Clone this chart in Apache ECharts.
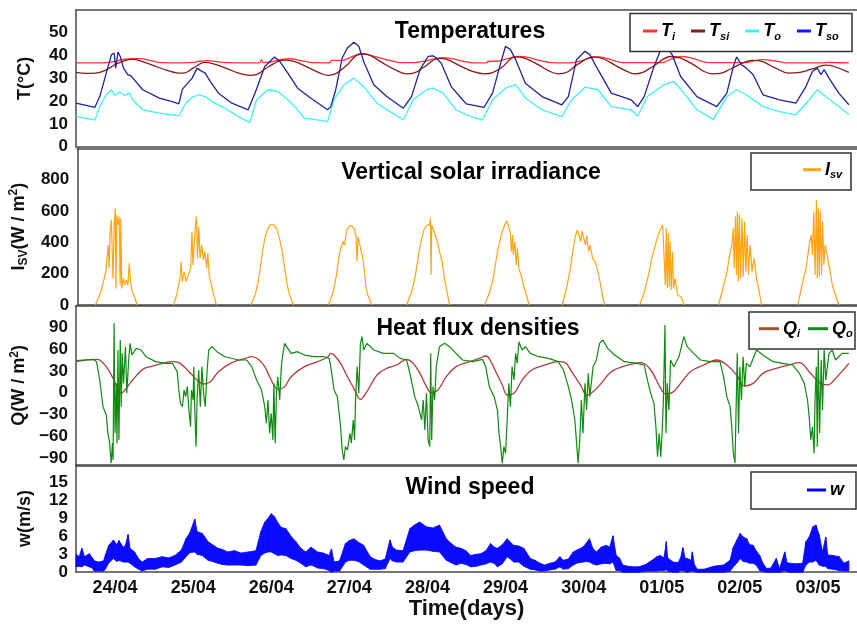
<!DOCTYPE html>
<html><head><meta charset="utf-8">
<script src="https://cdn.jsdelivr.net/npm/echarts/dist/echarts.min.js"></script>
<style>html,body{margin:0;padding:0;background:#fff}#c{width:857px;height:624px}</style>
</head><body><div id="c"></div>
<script>
// ---------------- data (time in hours from 24/04 00:00) ----------------
const days = ['24/04','25/04','26/04','27/04','28/04','29/04','30/04','01/05','02/05','03/05'];

const tiData = [[0,36.8],[8,36.8],[11,37.2],[14,38.2],[17,38.6],[20,38.7],[23,37.8],[26,36.9],[33,36.8],[36,37.0],[38,37.5],[40.5,37.8],[43,37.4],[46,36.9],[56.5,36.8],[57,38.2],[57.5,36.9],[60,37.2],[63,38.3],[66,38.6],[69,37.8],[72,37.0],[78,36.8],[78.4,37.9],[81.3,37.9],[83,38.3],[86,40.2],[89,40.6],[92,39.5],[96,38.0],[100,36.9],[104,36.9],[107,37.5],[110,38.5],[113,39.1],[116,38.5],[119,37.5],[122,36.8],[126.3,36.8],[126.5,37.4],[130,37.6],[133,38.8],[136,39.6],[139,39.2],[142,38.0],[146,36.9],[152,36.8],[155,37.6],[158,39.0],[160.5,39.4],[163,38.8],[166,37.5],[168,36.9],[180,36.9],[183,38.5],[186,39.6],[189,39.0],[192,37.6],[195,36.9],[206,36.9],[208,37.6],[211,38.2],[214,37.8],[217,37.1],[219,36.8],[229,36.8],[231.4,37.0],[233,36.9],[237.5,36.8]];

const tsiData = [[0,32.6],[3,32.2],[6,32.3],[9,33.5],[12,36.0],[15,37.8],[17.4,38.3],[20,37.6],[24,35.5],[28,33.5],[31,32.4],[33,32.3],[36,34.5],[39.5,37.0],[42,36.5],[46,34.5],[50,32.3],[53.5,31.3],[56,32.0],[59,35.0],[64,38.0],[67,37.4],[71,35.0],[75,32.3],[77.5,31.3],[80,32.2],[83,35.5],[87.5,40.8],[90,40.3],[94,37.0],[98,33.8],[101.5,32.0],[104,32.4],[107,35.0],[111.5,38.8],[114,38.3],[118,35.5],[122,33.0],[125.5,32.0],[128,32.5],[131,35.0],[135,39.4],[138,38.8],[142,36.0],[145,33.5],[148.2,32.0],[151,32.8],[154,36.0],[159,39.4],[162,38.6],[166,35.5],[169,33.3],[171.6,32.0],[174,32.5],[177,35.0],[183,39.6],[186,38.8],[190,35.8],[193,33.0],[195.5,32.0],[198,32.2],[201,34.0],[208,37.9],[211,37.3],[215,34.5],[219,32.3],[222,32.5],[226,34.0],[230.4,35.8],[233,35.2],[237.5,32.6]];

const toData = [[0,13.2],[3,12.5],[5.8,11.7],[7.3,17.6],[9.3,22.8],[10.9,25.0],[11.9,22.5],[13.4,24.0],[14.9,22.5],[16.4,23.5],[17.4,20.6],[20.5,16.2],[25.6,14.7],[29.6,14.0],[31.6,13.5],[33.7,19.1],[35.5,21.5],[37.7,22.8],[39.7,22.0],[41.8,19.8],[45.8,16.9],[49.9,13.2],[53.4,10.6],[55.5,20.6],[59.0,25.0],[62.1,24.2],[65.1,20.6],[68.1,16.2],[70.2,12.5],[73.2,12.0],[77.3,11.0],[79.3,20.6],[82.3,27.2],[85.4,30.1],[88.4,26.4],[92.5,19.1],[96.5,15.4],[100.6,11.7],[103.6,20.6],[107.7,25.0],[109.7,25.7],[112.8,23.5],[116.8,16.2],[119.9,14.0],[124.9,11.7],[128.0,20.6],[132.0,25.7],[135.1,27.2],[138.1,21.3],[143.2,16.2],[149.3,13.2],[152.3,20.6],[156.4,26.1],[160.4,25.0],[164.5,17.6],[170.6,16.2],[172.6,13.5],[175.6,22.0],[180.7,27.2],[183.7,28.6],[186.8,23.5],[190.8,16.2],[195.9,12.0],[200.0,22.0],[203.0,25.0],[206.0,22.8],[211.1,17.6],[216.2,15.4],[221.2,14.0],[225.3,20.6],[227.8,25.0],[230.4,22.0],[234.4,17.6],[237.5,14.0]];

const tsoData = [[0,19.1],[5.8,17.3],[7.3,22.0],[9.3,32.3],[10.9,40.4],[11.7,41.1],[12.2,34.5],[12.9,41.6],[13.6,39.6],[14.6,34.5],[15.9,31.6],[16.9,31.1],[20.5,25.0],[25.6,21.3],[29.6,19.8],[31.6,18.8],[32.7,25.3],[35.7,30.1],[37.2,34.5],[38.2,33.5],[39.7,32.3],[41.3,28.6],[43.8,23.5],[47.9,19.1],[52.9,16.2],[55.0,23.5],[58.0,35.2],[61.0,39.4],[62.6,37.4],[65.1,32.3],[68.1,25.7],[72.2,21.3],[77.3,16.2],[78.3,17.6],[79.8,24.9],[81.8,38.9],[83.4,43.3],[85.4,45.8],[86.9,44.1],[88.4,37.4],[91.5,27.2],[95.5,22.0],[100.6,16.9],[103.1,22.0],[105.7,33.8],[108.2,39.6],[109.7,39.9],[110.7,38.9],[112.2,36.7],[115.3,26.4],[118.8,20.6],[119.9,18.8],[125.4,17.3],[128.0,23.5],[130.5,36.7],[132.0,44.1],[133.5,42.6],[135.1,38.2],[138.1,27.9],[143.2,22.0],[149.3,18.4],[151.3,22.0],[153.8,38.2],[156.4,41.9],[157.9,40.4],[160.4,33.8],[164.5,23.5],[170.6,20.6],[172.6,17.6],[174.6,22.0],[177.6,35.2],[179.7,42.6],[181.2,44.1],[183.2,40.4],[185.8,30.8],[190.8,22.0],[196.9,17.6],[200.0,23.5],[202.0,35.2],[203.0,39.4],[204.5,36.0],[206.0,34.5],[208.1,31.6],[211.1,22.8],[216.2,20.6],[221.2,19.1],[224.3,26.4],[226.3,33.0],[227.8,34.5],[228.9,31.6],[229.9,33.8],[231.4,30.1],[234.4,23.5],[237.5,18.4]];

const isvData = [[0,0],[5.6,0],[7.3,85],[8.8,213],[9.5,383],[9.8,234],[10.1,469],[10.5,543],[11.0,170],[11.4,522],[11.7,618],[11.9,106],[12.2,575],[12.6,511],[12.9,564],[13.2,128],[13.4,554],[13.7,106],[14.2,170],[14.6,128],[15.1,160],[15.6,128],[16.0,266],[16.4,149],[16.9,85],[17.4,64],[18.5,0],
[29.6,0],[30.6,64],[31.6,170],[32.0,277],[32.3,149],[32.9,213],[33.5,149],[34.2,192],[34.9,234],[35.3,469],[35.6,256],[36.0,383],[36.4,511],[36.7,564],[37.0,298],[37.4,500],[37.8,298],[38.3,383],[38.8,288],[39.3,341],[39.8,234],[40.2,330],[40.6,192],[41.3,128],[42.0,64],[42.8,0],
[53.4,0],[54.3,40],[55.0,85],[55.6,140],[56.0,190],[56.5,260],[57.0,341],[57.7,420],[58.5,479],[59.2,508],[60.0,515],[60.8,505],[61.5,479],[62.3,420],[63.1,341],[63.6,270],[64.1,200],[64.6,130],[65.1,85],[65.6,50],[66.0,40],[66.6,0],
[77.3,0],[78.8,85],[79.8,192],[80.8,341],[81.8,405],[82.3,383],[82.8,469],[83.6,500],[84.4,507],[85.2,490],[85.8,437],[86.1,277],[86.4,437],[87.2,362],[87.9,298],[88.4,213],[88.9,106],[89.4,64],[89.9,43],[90.6,0],
[101.4,0],[103.1,96],[104.1,192],[105.2,341],[105.9,415],[106.7,479],[107.7,511],[108.5,511],[108.7,554],[108.9,192],[109.1,511],[109.7,479],[110.7,415],[111.5,341],[112.3,277],[113.0,170],[113.8,85],[114.6,0],
[125.4,0],[127.0,85],[128.0,170],[129.0,298],[130.0,405],[131.0,479],[131.8,522],[132.2,537],[132.8,500],[133.3,458],[133.6,341],[134.0,447],[134.2,320],[134.7,405],[135.1,256],[135.5,362],[135.9,234],[136.6,192],[137.3,128],[138.1,75],[139.1,0],
[149.3,0],[150.8,128],[151.8,234],[152.5,341],[153.3,437],[153.9,479],[154.5,490],[155.0,405],[155.3,473],[155.9,426],[156.4,383],[156.8,443],[157.4,341],[157.9,383],[158.6,298],[159.4,277],[160.1,224],[160.9,149],[161.6,64],[162.4,0],
[173.1,0],[174.6,85],[175.8,192],[177.1,320],[178.2,405],[179.2,469],[180.2,511],[180.7,515],[181.0,128],[181.3,490],[181.6,106],[181.9,458],[182.2,117],[182.5,405],[182.8,96],[183.2,341],[183.5,106],[184.0,170],[184.8,64],[185.8,53],[186.8,0],
[197.4,0],[199.0,128],[200.0,213],[200.8,320],[201.5,383],[201.9,490],[202.2,234],[202.6,564],[202.9,192],[203.2,596],[203.5,149],[203.8,575],[204.2,170],[204.6,554],[205.0,181],[205.4,533],[205.8,213],[206.2,447],[206.6,192],[207.1,383],[207.7,213],[208.3,298],[209.1,170],[209.9,85],[210.6,0],
[221.8,0],[223.1,128],[224.3,234],[225.3,383],[225.9,447],[226.3,320],[226.7,596],[227.1,192],[227.5,671],[227.8,170],[228.1,618],[228.4,181],[228.7,596],[229.1,192],[229.4,533],[229.8,256],[230.2,383],[230.8,320],[231.6,234],[232.4,128],[233.4,64],[234.4,0],[240,0]];

const qiData = [[0,42.7],[6.3,45.9],[7.3,45.0],[9.3,35.8],[11.4,19.7],[12.9,4.6],[13.9,-0.9],[15.4,6.0],[17.4,17.4],[20.5,32.1],[23.5,36.7],[26.6,40.4],[29.6,42.7],[31.6,41.3],[33.7,33.5],[35.7,24.3],[37.7,15.1],[39.2,11.9],[41.3,15.1],[43.8,28.9],[47.9,41.3],[51.9,46.8],[53.9,49.5],[56.0,45.9],[58.0,35.8],[60.0,17.4],[62.1,4.6],[64.1,8.3],[66.1,22.0],[70.2,35.8],[74.2,42.7],[77.3,49.0],[78.3,54.1],[79.3,51.8],[81.3,40.4],[83.4,22.0],[85.4,6.0],[87.4,-9.2],[89.4,1.4],[92.5,24.3],[95.5,33.5],[98.6,38.1],[101.6,45.9],[103.6,40.4],[105.7,26.6],[107.7,8.3],[109.2,0.0],[111.2,3.7],[113.8,22.0],[116.8,35.8],[120.9,42.7],[123.9,47.2],[126.0,50.5],[127.5,42.7],[129.0,28.9],[131.0,10.6],[132.5,-3.2],[134.6,-0.9],[137.1,17.4],[140.1,31.2],[144.2,38.1],[148.2,42.7],[150.3,41.3],[152.3,28.9],[155.3,8.3],[156.9,-3.2],[158.9,1.4],[161.4,12.8],[164.5,28.9],[168.5,36.7],[173.6,41.3],[176.6,31.2],[179.7,6.0],[181.2,-1.8],[183.2,0.0],[185.8,12.8],[188.8,28.9],[192.9,38.1],[196.9,45.0],[200.0,38.1],[203.0,24.3],[205.5,9.2],[208.1,12.8],[211.1,26.6],[215.2,33.5],[219.2,38.1],[222.3,41.3],[225.3,28.9],[228.4,13.8],[230.9,10.6],[233.4,19.7],[237.5,40.4]];

const qoData = [[0,44.0],[5.3,45.9],[6.3,42.7],[7.3,17.4],[8.3,-19.3],[9.3,-30.7],[9.8,-56.0],[10.3,-67.4],[10.8,-97.2],[11.2,-69.7],[11.4,-92.7],[11.7,95.4],[12.0,-56.0],[12.4,12.8],[12.6,-70.0],[12.9,58.7],[13.2,-65.0],[13.6,72.5],[13.9,-19.3],[14.2,54.1],[14.6,12.8],[15.2,63.3],[15.6,-0.9],[16.2,45.0],[16.6,67.9],[17.2,51.8],[18.5,61.0],[20.0,58.7],[21.5,49.5],[24.5,42.7],[27.6,40.4],[29.6,40.4],[31.1,28.9],[31.6,3.7],[32.1,-14.7],[32.7,-19.3],[33.2,3.7],[33.7,-5.5],[34.2,8.3],[34.7,-23.9],[35.2,-46.8],[35.5,3.7],[36.0,-10.1],[36.2,35.8],[36.5,-23.9],[36.9,-74.3],[37.2,-10.1],[37.7,31.2],[38.2,-19.3],[38.7,35.8],[39.2,-0.9],[39.7,-19.3],[40.3,31.2],[40.8,58.7],[41.8,63.3],[43.3,56.4],[45.8,49.5],[49.9,45.0],[52.4,45.0],[54.0,35.8],[55.5,17.4],[57.0,3.7],[58.0,-19.3],[58.5,-42.2],[59.0,-10.1],[59.5,-56.0],[60.0,-28.4],[60.5,-65.1],[60.8,12.8],[61.2,-69.7],[61.6,-0.9],[62.0,22.0],[62.6,-10.1],[63.1,35.8],[63.6,54.1],[64.1,67.9],[65.1,61.0],[66.1,54.1],[68.1,56.4],[70.2,51.8],[73.2,49.5],[76.3,49.5],[77.8,47.2],[78.3,35.8],[79.3,3.7],[80.3,-5.5],[81.3,-46.8],[81.8,-78.9],[82.3,-92.7],[82.8,-74.3],[83.4,-78.9],[84.2,-56.0],[84.6,-69.7],[85.2,-37.6],[85.6,-65.1],[85.9,-10.1],[86.4,35.8],[86.9,-0.9],[87.4,67.9],[87.9,77.1],[88.4,58.7],[89.4,67.9],[91.5,58.7],[94.5,54.1],[97.6,54.1],[99.6,47.2],[101.6,45.0],[102.6,26.6],[104.1,-5.5],[105.2,-19.3],[106.2,-37.6],[106.7,-10.1],[107.2,-51.4],[107.7,-0.9],[108.2,-65.1],[108.7,-74.3],[109.0,54.1],[109.3,-65.1],[109.7,8.3],[110.2,-10.1],[110.7,35.8],[111.7,63.3],[113.3,67.9],[114.8,63.3],[116.8,54.1],[118.8,45.0],[121.9,42.7],[124.9,45.9],[125.9,35.8],[127.0,8.3],[128.5,-5.5],[129.5,-23.9],[130.0,-56.0],[130.5,-74.3],[131.0,-97.2],[131.5,-74.3],[132.0,-83.5],[132.5,-37.6],[133.0,12.8],[133.5,-19.3],[134.0,35.8],[134.6,17.4],[135.1,54.1],[135.6,40.4],[136.1,70.2],[137.1,58.7],[138.1,63.3],[139.6,54.1],[142.2,49.5],[145.2,47.2],[148.2,42.7],[149.8,31.2],[151.3,8.3],[152.3,-10.1],[153.3,-37.6],[154.3,-97.2],[154.8,-65.1],[155.3,-10.1],[155.8,-56.0],[156.4,12.8],[156.9,-23.9],[157.4,26.6],[157.9,-5.5],[158.9,35.8],[159.9,45.0],[160.9,67.9],[161.9,72.5],[163.4,61.0],[165.5,51.8],[168.5,42.7],[172.6,40.4],[174.6,38.1],[175.6,17.4],[176.6,-0.9],[177.6,-14.7],[178.2,-46.8],[178.7,-88.1],[179.2,-56.0],[179.7,-88.1],[180.2,-46.8],[180.5,-10.1],[181.0,93.1],[181.3,-56.0],[181.7,12.8],[182.2,-23.9],[182.7,45.0],[183.7,35.8],[185.3,49.5],[186.8,77.1],[187.8,63.3],[189.8,54.1],[191.9,45.0],[194.9,42.7],[197.9,42.7],[199.0,22.0],[200.0,-5.5],[201.0,-19.3],[201.5,-46.8],[202.0,-83.5],[202.5,-97.2],[202.8,-33.0],[203.2,54.1],[203.6,-56.0],[204.0,35.8],[204.5,-10.1],[205.0,49.5],[205.5,8.3],[206.0,40.4],[207.1,35.8],[209.1,58.7],[211.1,51.8],[214.2,42.7],[217.2,40.4],[220.2,38.1],[222.3,26.6],[223.8,12.8],[224.8,-10.1],[225.3,-33.0],[225.8,-65.1],[226.3,-47.0],[226.8,-83.5],[227.1,-10.1],[227.5,35.8],[227.8,-74.3],[228.1,58.7],[228.5,-56.0],[229.0,45.0],[229.4,-23.9],[229.9,58.7],[230.4,17.4],[231.4,54.1],[232.4,58.7],[233.4,45.0],[235.4,54.1],[237.5,54.1]];

// wind speed: lower and upper edge of the noisy trace
const windHours = [0,1.0,1.8,2.6,4.1,5.0,5.6,7.0,8.5,9.1,10.1,11.5,12.5,13.2,14.5,15.2,16.0,16.6,18.0,19.3,20.3,22.0,24.3,26.5,28.5,30.4,32.4,33.8,35.0,36.5,37.2,38.8,40.6,42.0,43.6,45.0,46.6,48.7,50.7,53.0,55.3,56.8,58.0,
 59.0,60.0,61.0,62.0,63.1,64.5,66.1,67.6,69.1,70.6,72.2,73.2,74.2,76.0,77.8,78.5,79.3,81.0,82.8,84.0,85.4,86.8,88.4,90.4,92.0,93.5,95.0,96.5,97.2,98.5,100.5,102.6,104.0,105.6,107.7,109.7,111.7,113.8,115.3,116.8,118.3,
 119.8,121.3,123.0,124.4,126.0,127.4,128.5,129.5,131.0,132.5,133.5,134.5,136.0,137.6,139.6,141.0,142.6,144.0,145.7,147.2,148.7,149.7,151.3,152.8,154.3,155.8,157.0,157.8,158.8,159.9,161.4,162.9,164.0,165.0,166.0,167.0,168.0,169.5,171.0,173.0,175.1,177.0,
 178.5,179.5,180.7,181.4,181.8,183.5,185.0,185.8,186.5,187.2,187.8,189.0,189.4,190.0,190.9,193.0,196.0,199.0,201.0,202.0,203.2,204.1,205.0,206.1,207.0,208.1,209.0,210.1,211.0,212.2,213.5,215.2,216.2,217.8,218.5,219.3,221.3,223.3,224.3,225.4,226.4,227.4,228.4,229.4,230.4,231.0,232.5,234.5,236.0,237.5];
const windLow = [0.9,1.0,0.9,1.2,0.9,0.7,0.2,0.2,0.2,0.6,1.6,2.3,1.8,2.0,1.7,1.7,1.7,1.5,0.9,0.5,0.2,0.5,0.5,0.9,0.8,1.2,1.7,2.6,3.3,3.4,3.0,2.8,2.0,1.8,1.5,1.3,1.2,1.2,1.2,1.1,1.2,2.8,3.2,
 3.4,3.4,3.1,2.8,2.9,2.8,2.3,2.0,1.5,0.9,1.2,1.0,0.7,0.6,0.3,0.0,0.2,0.2,1.7,2.0,2.0,1.8,1.2,0.5,0.5,0.5,0.6,2.3,1.9,1.7,1.7,3.4,3.6,3.7,3.7,3.5,3.4,2.0,1.6,1.2,1.5,
 1.3,0.9,1.0,1.2,1.4,1.7,1.5,0.9,1.4,2.6,2.2,1.7,1.7,1.0,0.5,0.4,0.2,0.2,0.4,0.5,0.9,0.5,0.6,1.2,1.6,1.7,1.8,1.7,1.4,1.2,1.4,1.5,1.4,1.7,0.3,0.3,0.0,0.0,0.0,0.0,0.2,0.2,
 0.2,0.3,0.3,0.4,0.2,0.0,0.0,0.3,0.3,0.1,0.0,0.2,0.2,0.1,0.0,0.0,0.0,0.0,0.2,0.9,1.6,2.3,1.8,1.7,1.5,1.5,1.2,0.3,0.1,0.0,0.0,0.0,0.0,0.3,0.1,0.0,0.0,0.0,1.2,1.7,1.7,2.0,1.2,1.0,1.0,0.6,0.5,0.3,0.2,0.2];
const windHigh = [3.0,2.6,4.0,2.6,3.1,2.4,1.9,1.7,1.9,3.0,4.5,5.4,4.6,5.3,4.2,4.5,6.3,4.0,3.4,2.2,1.7,2.3,2.3,2.6,2.4,2.8,3.7,5.6,6.6,8.9,6.8,6.5,5.1,4.6,4.0,3.8,3.4,3.6,3.2,3.4,3.6,6.8,8.4,
 9.0,9.8,9.3,8.3,7.5,7.3,6.0,5.1,4.0,3.4,4.2,3.8,3.4,3.2,2.8,3.9,1.7,1.9,4.8,5.3,5.6,5.0,4.5,2.6,2.1,1.9,2.2,5.4,4.2,3.7,3.6,7.3,7.9,8.4,7.6,7.4,7.9,5.6,4.8,4.2,4.0,
 3.6,2.8,3.0,3.1,3.6,4.8,4.2,4.0,4.6,5.6,5.0,4.5,4.4,4.0,2.3,2.0,1.5,1.2,1.5,1.7,2.6,2.0,2.2,3.4,3.8,4.2,5.0,5.6,4.0,3.4,4.2,4.5,4.2,6.1,2.8,2.4,1.2,1.0,0.9,0.9,1.3,2.0,
 2.6,2.8,2.4,5.1,2.4,1.7,1.6,2.4,4.1,2.3,2.3,2.0,3.4,1.3,0.5,0.5,1.0,1.2,2.0,4.2,5.5,6.5,5.9,5.6,4.6,4.5,3.6,2.8,1.6,0.6,0.7,2.3,0.6,3.4,1.6,1.5,1.4,1.5,5.1,6.0,7.6,7.9,6.2,3.4,5.9,2.9,2.8,2.6,1.5,1.9];

// ---------------- chart ----------------
const FONT = '"Liberation Sans", Arial, sans-serif';
const AX = '#4a4a4a';
const grids = [
  {left:76, width:789.5, top:10, height:136.7},
  {left:76, width:789.5, top:148.3, height:156.7},
  {left:76, width:789.5, top:305.5, height:159.8},
  {left:76, width:789.5, top:464.8, height:107.4}
];
const xAxes = [];
grids.forEach((g,i)=>{
  xAxes.push({type:'category', gridIndex:i, position:'bottom', data:days, boundaryGap:true,
    axisLine:{onZero:false, lineStyle:{color:AX,width:1.5}}, axisTick:{inside:true,length:4.5,lineStyle:{color:AX,width:1.2}},
    axisLabel:{show:i===3, fontSize:18, fontWeight:'bold', color:'#111', fontFamily:FONT, margin:7},
    name: i===3 ? 'Time(days)' : '', nameLocation:'middle', nameGap:26,
    nameTextStyle:{fontSize:22, fontWeight:'bold', color:'#111', fontFamily:FONT}});
  xAxes.push({type:'category', gridIndex:i, position:'top', data:days, boundaryGap:true,
    axisLine:{onZero:false, lineStyle:{color:AX,width:1.5}}, axisTick:{inside:true,length:4.5,lineStyle:{color:AX,width:1.2}},
    axisLabel:{show:false}});
  xAxes.push({type:'value', gridIndex:i, min:0, max:240, show:false});
});
const lab = {fontSize:17, fontWeight:'bold', color:'#111', fontFamily:FONT, margin:8};
const nameRich = {
  a:{fontSize:18, fontWeight:'bold', color:'#111', fontFamily:FONT, lineHeight:22},
  s:{fontSize:12, fontWeight:'bold', color:'#111', fontFamily:FONT, verticalAlign:'bottom', lineHeight:12},
  p:{fontSize:12, fontWeight:'bold', color:'#111', fontFamily:FONT, verticalAlign:'top', lineHeight:12}
};
function yAx(i, min, max, interval, fmt, name, gap){
  return {type:'value', gridIndex:i, min, max, interval,
    axisLine:{show:true, onZero:false, lineStyle:{color:AX,width:1.5}}, axisTick:{show:false}, splitLine:{show:false},
    axisLabel:Object.assign({formatter:fmt}, lab),
    name, nameLocation:'middle', nameGap:gap, nameTextStyle:{rich:nameRich}};
}
const yAxes = [
  yAx(0,0,60,10,v=>v===60?'':String(v),'{a|T(°C)}',40),
  yAx(1,0,1000,200,v=>v===1000?'':String(v),'{a|I}{s|SV}{a|(W / m}{p|2}{a|)}',42),
  yAx(2,-100,120,10,v=>(v%30===0 && Math.abs(v)<=90)?(v<0?'\u2212'+(-v):String(v)):'','{a|Q(W / m}{p|2}{a|)}',42),
  yAx(3,0,18,3,v=>v===18?'':String(v),'{a|w(m/s)}',40)
];
function line(name, data, xi, yi, color, w, extra){
  return Object.assign({name, type:'line', data, xAxisIndex:xi, yAxisIndex:yi, showSymbol:false, symbol:'none',
    color, lineStyle:{color, width:w}, animation:false}, extra||{});
}
// break the irradiance line during the night runs of zeros
function nightGaps(arr){
  const out=[];
  arr.forEach((p,i)=>{ out.push(p); const n=arr[i+1]; if(n && p[1]===0 && n[1]===0) out.push([(p[0]+n[0])/2,'-']); });
  return out;
}
const windSegs = windHours.slice(0,-1).map((t,i)=>[t, windLow[i], windHigh[i], windHours[i+1], windLow[i+1], windHigh[i+1]]);
const series = [
  line('Ti', tiData, 2, 0, '#ff3535', 1.3, {smooth:0.3}),
  line('Tsi', tsiData, 2, 0, '#8e1818', 1.3, {smooth:0.4}),
  line('To', toData, 2, 0, '#3cf2f2', 1.3),
  line('Tso', tsoData, 2, 0, '#22229a', 1.3),
  line('Isv', nightGaps(isvData), 5, 1, '#ffa514', 1.2, {connectNulls:false}),
  line('Qi', qiData, 8, 2, '#b03c3c', 1.3, {smooth:0.4}),
  line('Qo', qoData, 8, 2, '#108a10', 1.2),
  {name:'w', type:'custom', xAxisIndex:11, yAxisIndex:3, data:windSegs, itemStyle:{color:'#0000ff'}, animation:false,
    encode:{x:[0,3], y:[1,2,4,5]},
    renderItem:function(params, api){
      const a=api.coord([api.value(0),api.value(1)]), b=api.coord([api.value(3),api.value(4)]);
      const c=api.coord([api.value(3),api.value(5)]), d=api.coord([api.value(0),api.value(2)]);
      return {type:'polygon', shape:{points:[a,b,c,d]}, style:{fill:'#0a0aff', stroke:'#0a0aff', lineWidth:0.9}};
    }}
];
const legRich = {
  b:{fontSize:18, fontWeight:'bold', fontStyle:'italic', color:'#000', fontFamily:FONT, lineHeight:22},
  s:{fontSize:11, fontWeight:'bold', fontStyle:'italic', color:'#000', fontFamily:FONT, verticalAlign:'bottom', lineHeight:12}
};
const legLabels = {Ti:'{b|T}{s|i}', Tsi:'{b|T}{s|si}', To:'{b|T}{s|o}', Tso:'{b|T}{s|so}', Isv:'{b|I}{s|sv}', Qi:'{b|Q}{s|i}', Qo:'{b|Q}{s|o}', w:'{b|w}'};
function leg(data, left, top, iw, gap){
  return {data, left, top, itemWidth:iw, itemHeight:3, itemGap:gap, icon:'rect', padding:0, z:60,
    selectedMode:false, formatter:n=>legLabels[n], textStyle:{rich:legRich, padding:[0,0,0,-1]}};
}
const legends = [
  leg(['Ti','Tsi','To',{name:'Tso', itemStyle:{color:'#1414ff'}}], 643, 22, 14, 16),
  leg(['Isv'], 803, 160.7, 18, 10),
  leg([{name:'Qi', itemStyle:{color:'#a0522d'}}, 'Qo'], 759, 319.7, 20, 8),
  leg(['w'], 807, 481, 19, 10)
];
function box(x,y,w,h){ return {type:'rect', z:50, shape:{x,y,width:w,height:h}, style:{fill:'#fff', stroke:'#333', lineWidth:1.5}}; }
function ttl(text,x,y){ return {type:'text', z:50, x, y, style:{text, font:'bold 23px '+FONT, fill:'#000', align:'center', verticalAlign:'middle', textAlign:'center', textVerticalAlign:'middle'}}; }
const chart = echarts.init(document.getElementById('c'), null, {renderer:'canvas'});
chart.setOption({
  animation:false, backgroundColor:'#fff',
  grid:grids, xAxis:xAxes, yAxis:yAxes, series, legend:legends,
  graphic:[
    box(630,13.5,222,38), box(751,153,100,37), box(749,312,106,37), box(751,472,105,37),
    ttl('Temperatures',470,32), ttl('Vertical solar irradiance',471,173), ttl('Heat flux densities',478,329), ttl('Wind speed',470,488)
  ]
});
</script></body></html>
